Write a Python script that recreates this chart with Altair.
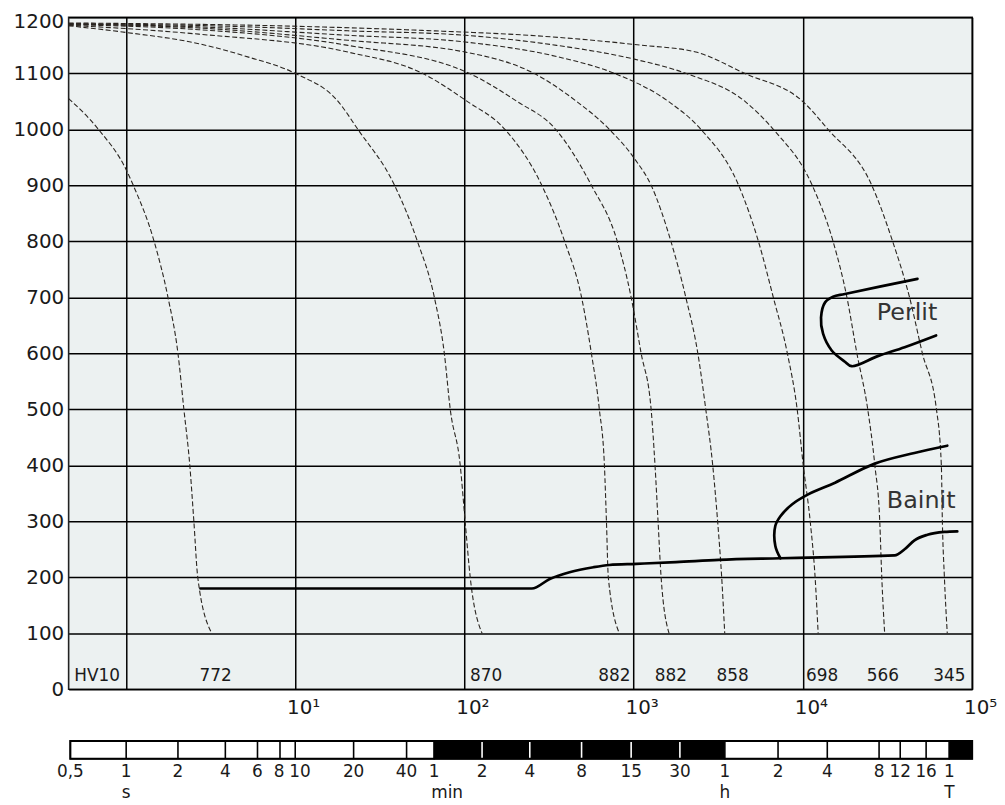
import altair as alt
import pandas as pd

FONT = "DejaVu Sans"
INK = "#1a1a1a"

# ---- cooling curves: log10(time / s) and temperature (deg C)
c1_lg = [-0.339, -0.163, 0.001, 0.043, 0.166, 0.248, 0.307, 0.342, 0.377, 0.401, 0.424, 0.507]
c1_T = [1055, 1000, 928, 900, 800, 700, 600, 500, 400, 300, 200, 100]

c2_lg = [-0.339, 0.001, 0.430, 0.724, 1.000, 1.253, 1.370, 1.587, 1.722, 1.822, 1.881, 1.916, 1.975, 2.004, 2.034, 2.104]
c2_T = [1185, 1173, 1153, 1129, 1100, 1050, 1000, 900, 800, 700, 600, 500, 400, 300, 200, 100]

c3_lg = [-0.339, 0.430, 1.311, 1.752, 2.016, 2.239, 2.457, 2.592, 2.692, 2.750, 2.797, 2.827, 2.839, 2.850, 2.915]
c3_T = [1186, 1170, 1138, 1100, 1050, 1000, 900, 800, 700, 600, 500, 400, 300, 200, 100]

c4_lg = [-0.339, 0.430, 1.311, 2.028, 2.310, 2.539, 2.750, 2.903, 2.985, 3.044, 3.103, 3.126, 3.144, 3.162, 3.209]
c4_T = [1187, 1178, 1150, 1100, 1050, 1000, 900, 800, 700, 600, 500, 400, 300, 200, 100]

c5_lg = [-0.339, 0.430, 1.311, 2.004, 2.410, 2.662, 2.856, 3.009, 3.103, 3.220, 3.308, 3.379, 3.426, 3.467, 3.496, 3.520, 3.538]
c5_T = [1188, 1181, 1159, 1138, 1100, 1050, 1000, 946, 900, 800, 700, 600, 500, 400, 300, 200, 100]

c6_lg = [-0.339, 0.430, 1.311, 2.004, 2.545, 2.886, 3.209, 3.397, 3.620, 3.737, 3.825, 3.908, 3.966, 4.002, 4.043, 4.072, 4.090]
c6_T = [1188, 1183, 1168, 1156, 1130, 1100, 1049, 1000, 900, 800, 700, 600, 500, 400, 300, 200, 100]

c7_lg = [-0.339, 0.724, 1.311, 2.004, 2.545, 3.009, 3.308, 3.661, 3.825, 4.055, 4.178, 4.260, 4.319, 4.383, 4.425, 4.454, 4.466, 4.483]
c7_T = [1189, 1183, 1176, 1168, 1150, 1125, 1100, 1049, 1000, 900, 800, 700, 600, 500, 400, 300, 200, 100]

c8_lg = [-0.339, 1.018, 1.893, 2.380, 3.021, 3.367, 3.655, 4.002, 4.148, 4.407, 4.530, 4.630, 4.706, 4.789, 4.818, 4.824, 4.836, 4.853]
c8_T = [1190, 1184, 1175, 1168, 1151, 1138, 1100, 1049, 1000, 900, 800, 700, 600, 500, 400, 300, 200, 100]

# ---- transformation boundaries (thick lines)
low_lg = [0.440, 2.398, 2.504, 2.621, 2.762, 2.856, 3.015, 3.250, 3.502, 3.867, 4.542, 4.601, 4.659, 4.736, 4.836, 4.912]
low_T = [180, 180, 197, 209, 218, 222, 224, 227, 231, 234, 239, 250, 266, 276, 281, 282]

bain_lg = [3.867, 3.837, 3.837, 3.867, 3.935, 4.031, 4.190, 4.425, 4.659, 4.853]
bain_T = [234, 256, 292, 309, 330, 348, 369, 403, 422, 435]

perl_lg = [4.677, 4.248, 4.178, 4.131, 4.107, 4.119, 4.170, 4.248, 4.288, 4.442, 4.601, 4.787]
perl_T = [733, 706, 701, 691, 664, 635, 605, 585, 577, 595, 611, 632]

# ---- hardness labels (HV10) at the curve ends
hv_text = ["HV10", "772", "870", "882", "882", "858", "698", "566", "345"]
hv_lg = [-0.171, 0.530, 2.128, 2.886, 3.220, 3.585, 4.113, 4.472, 4.865]
hv_T = 23

# ---- region labels
reg_text = ["Perlit", "Bainit"]
reg_lg = [4.615, 4.699]
reg_T = [672, 337]

# ---- time bar below the diagram (positions as drawn)
bar_edges_lg = [-0.329, 1.821, 3.539, 4.865, 5.0]
bar_fill = ["white", "black", "white", "black"]
div_black_lg = [0.001, 0.307, 0.587, 0.777, 0.910, 1.0, 1.345, 1.658, 3.853, 4.144, 4.450, 4.575, 4.728]
div_white_lg = [2.104, 2.386, 2.692, 2.985, 3.273]
bar_lab_lg = [-0.329, 0.001, 0.307, 0.587, 0.777, 0.905, 1.028, 1.345, 1.658, 1.821, 2.104, 2.386,
              2.692, 2.985, 3.273, 3.539, 3.853, 4.144, 4.450, 4.575, 4.728, 4.865]
bar_lab = ["0,5", "1", "2", "4", "6", "8", "10", "20", "40", "1", "2", "4",
           "8", "15", "30", "1", "2", "4", "8", "12", "16", "1"]
unit_lab = ["s", "h", "T"]
unit_lg = [0.001, 3.539, 4.865]
min_lg = [1.821]

# ---------------------------------------------------------------------------
def pts(name_lg_T):
    rows = []
    for k, (lg, T) in enumerate(name_lg_T):
        for i, (a, b) in enumerate(zip(lg, T)):
            rows.append({"id": k, "i": i, "t": 10 ** a, "T": b})
    return pd.DataFrame(rows)

cool = pts([(c1_lg, c1_T), (c2_lg, c2_T), (c3_lg, c3_T), (c4_lg, c4_T),
            (c5_lg, c5_T), (c6_lg, c6_T), (c7_lg, c7_T), (c8_lg, c8_T)])
low = pts([(low_lg, low_T)])
loops = pts([(bain_lg, bain_T), (perl_lg, perl_T)])

hv_df = pd.DataFrame({"t": [10 ** v for v in hv_lg], "T": hv_T, "txt": hv_text})
reg_df = pd.DataFrame({"t": [10 ** v for v in reg_lg], "T": reg_T, "txt": reg_text})

bar_df = pd.DataFrame({"t": [10 ** v for v in bar_edges_lg[:-1]],
                       "t2": [10 ** v for v in bar_edges_lg[1:]], "fill": bar_fill})
div_df = pd.DataFrame({"t": [10 ** v for v in div_black_lg + div_white_lg],
                       "c": ["black"] * len(div_black_lg) + ["white"] * len(div_white_lg)})
frame_df = pd.DataFrame({"t": [10 ** bar_edges_lg[0]], "t2": [10 ** bar_edges_lg[-1]]})
blab_df = pd.DataFrame({"t": [10 ** v for v in bar_lab_lg], "txt": bar_lab})
unit_df = pd.DataFrame({"t": [10 ** v for v in unit_lg], "txt": unit_lab})
min_df = pd.DataFrame({"t": [10 ** v for v in min_lg], "txt": ["min"]})

xscale = alt.Scale(type="log", domain=[10 ** -0.339, 1e5], nice=False)
yscale = alt.Scale(domain=[0, 1200], nice=False)

label_expr = ("datum.value == 10 ? '10\u00b9' : datum.value == 100 ? '10\u00b2' : "
              "datum.value == 1000 ? '10\u00b3' : datum.value == 10000 ? '10\u2074' : "
              "datum.value == 100000 ? '10\u2075' : ''")

xaxis = alt.Axis(values=[1, 10, 100, 1000, 10000, 100000], title=None, grid=True,
                 gridColor="black", gridWidth=1.5, gridOpacity=1, ticks=False, domain=False,
                 labelFont=FONT, labelFontSize=20, labelColor=INK, labelPadding=8,
                 labelOffset=8, labelExpr=label_expr, labelOverlap=False, labelFlush=False)
yaxis = alt.Axis(values=list(range(0, 1300, 100)), title=None, grid=True, format="d",
                 gridColor="black", gridWidth=1.5, gridOpacity=1, ticks=False, domain=False,
                 labelFont=FONT, labelFontSize=20, labelColor=INK, labelPadding=5,
                 labelOffset={"condition": {"test": "datum.value == 1200", "value": 4}, "value": 0},
                 labelOverlap=False, labelFlush=False)

X = alt.X("t:Q", scale=xscale, axis=xaxis)
Y = alt.Y("T:Q", scale=yscale, axis=yaxis)

cool_layer = alt.Chart(cool).mark_line(
    color="#2a2520", strokeWidth=1.1, strokeDash=[5, 2.5], interpolate="monotone"
).encode(x=X, y=Y, detail="id:N", order="i:Q")

low_layer = alt.Chart(low).mark_line(
    color="black", strokeWidth=2.7, interpolate="monotone", strokeCap="round", strokeJoin="round"
).encode(x=X, y=Y, detail="id:N", order="i:Q")

loop_layer = alt.Chart(loops).mark_line(
    color="black", strokeWidth=2.7, interpolate="catmull-rom", strokeCap="round", strokeJoin="round"
).encode(x=X, y=Y, detail="id:N", order="i:Q")

hv_layer = alt.Chart(hv_df).mark_text(
    font=FONT, fontSize=17, color=INK, baseline="middle", align="center"
).encode(x=X, y=Y, text="txt:N")

reg_layer = alt.Chart(reg_df).mark_text(
    font=FONT, fontSize=24, color="#333333", baseline="middle", align="center"
).encode(x=X, y=Y, text="txt:N")

BAR_TOP, BAR_BOT = 728, 746

bar_layer = alt.Chart(bar_df).mark_rect(stroke="black", strokeWidth=1.5).encode(
    x=X, x2="t2:Q", y=alt.value(BAR_TOP), y2=alt.value(BAR_BOT),
    fill=alt.Fill("fill:N", scale=None))

div_layer = alt.Chart(div_df).mark_rule(strokeWidth=1.6).encode(
    x=X, y=alt.value(BAR_TOP), y2=alt.value(BAR_BOT), color=alt.Color("c:N", scale=None))

frame_layer = alt.Chart(frame_df).mark_rect(filled=False, stroke="black", strokeWidth=2).encode(
    x=X, x2="t2:Q", y=alt.value(BAR_TOP), y2=alt.value(BAR_BOT))

blab_layer = alt.Chart(blab_df).mark_text(
    font=FONT, fontSize=17, color=INK, baseline="middle", align="center"
).encode(x=X, y=alt.value(759), text="txt:N")

unit_layer = alt.Chart(unit_df).mark_text(
    font=FONT, fontSize=17, color=INK, baseline="alphabetic", align="center"
).encode(x=X, y=alt.value(785), text="txt:N")

min_layer = alt.Chart(min_df).mark_text(
    font=FONT, fontSize=17, color=INK, baseline="alphabetic", align="left", dx=-3
).encode(x=X, y=alt.value(785), text="txt:N")

chart = alt.layer(
    cool_layer, low_layer, loop_layer, hv_layer, reg_layer,
    bar_layer, div_layer, frame_layer, blab_layer, unit_layer, min_layer
).properties(
    width=909, height=676,
    autosize=alt.AutoSizeParams(type="none"),
    padding={"left": 61, "top": 7, "right": 25, "bottom": 114},
    background="white",
).configure_view(fill="#ecf1f1", stroke="#222222", strokeWidth=1.6)

chart.save("out.html", embed_options={"renderer": "svg", "actions": False})
